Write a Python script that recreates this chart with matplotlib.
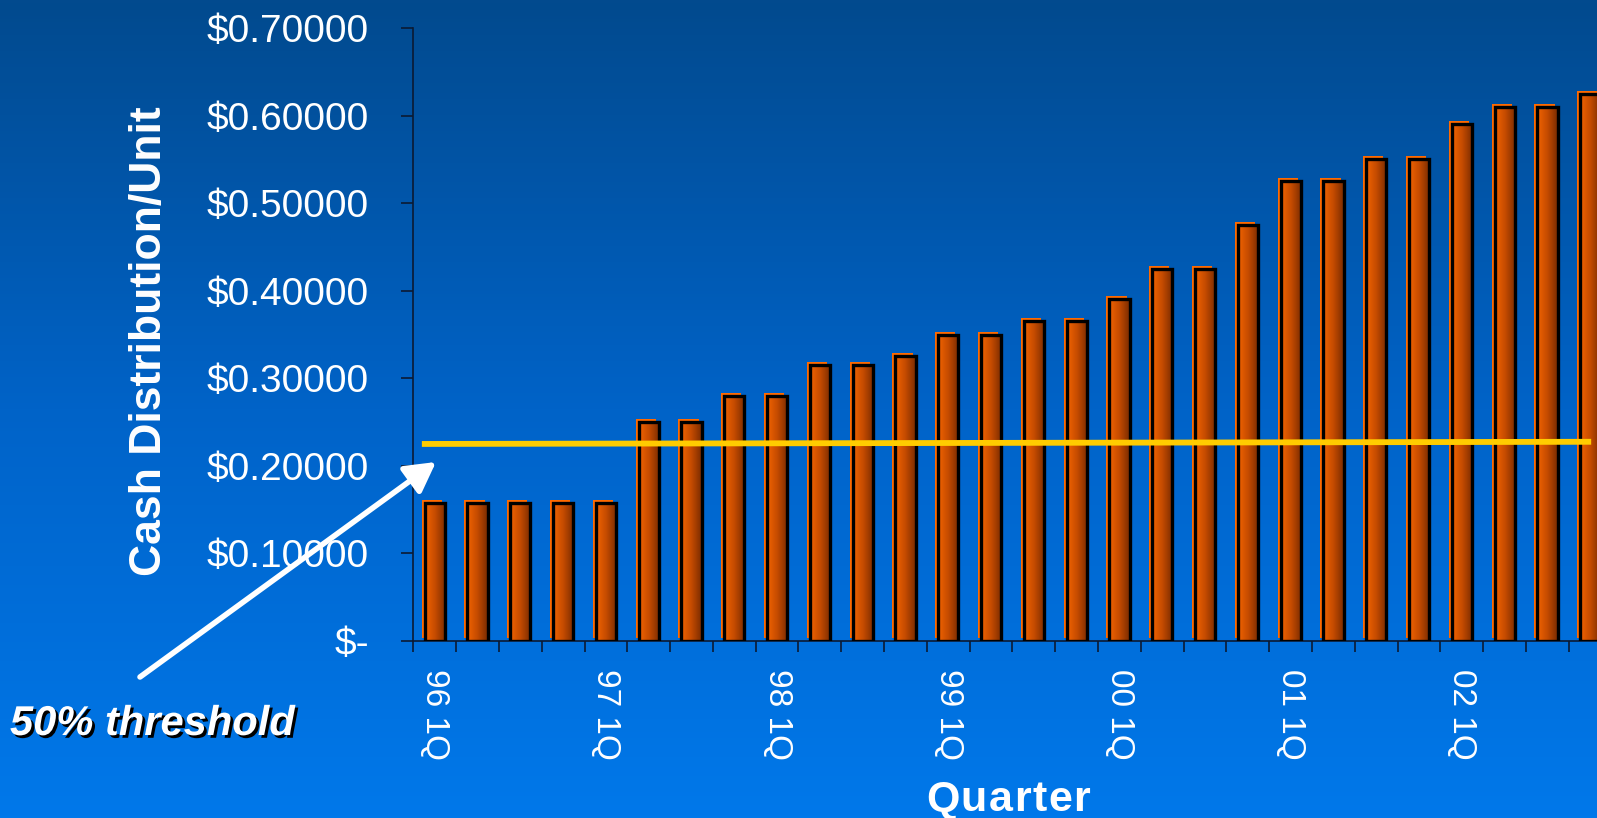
import matplotlib
matplotlib.use('Agg')
import matplotlib.pyplot as plt
import matplotlib.colors as cols
import matplotlib.patheffects as pe
import matplotlib.transforms as mtrans
from matplotlib.patches import Rectangle, FancyArrowPatch
import numpy as np

plt.rcParams['font.family'] = ['Liberation Sans', 'DejaVu Sans']

# cash distribution per unit, one value per quarter 96 1Q .. 02 4Q
distribution = [0.1575, 0.1575, 0.1575, 0.1575,
                0.1575, 0.25, 0.25, 0.28,
                0.28, 0.315, 0.315, 0.325,
                0.35, 0.35, 0.365, 0.365,
                0.39, 0.425, 0.425, 0.475,
                0.525, 0.525, 0.55, 0.55,
                0.59, 0.61, 0.61, 0.625]
year_labels = ['96 1Q', '97 1Q', '98 1Q', '99 1Q', '00 1Q', '01 1Q', '02 1Q']
y_ticks = [0.0, 0.1, 0.2, 0.3, 0.4, 0.5, 0.6, 0.7]
threshold = [0.225, 0.2275]   # drawn line, slightly tilted in the original
threshold_x = [-0.3, 27.02]

n = len(distribution)
x = np.arange(n)
labels = []
for i in range(n):
    labels.append(year_labels[i // 4] if i % 4 == 0 else '')

W, H = 1597, 818
fig = plt.figure(figsize=(W / 100, H / 100), dpi=100)

# blue gradient background
bg = fig.add_axes([0, 0, 1, 1], zorder=-10)
bg_cmap = cols.LinearSegmentedColormap.from_list('bg', ['#0078EA', '#0063C8', '#024A8E'])
bg.imshow(np.linspace(1, 0, 256).reshape(-1, 1), aspect='auto', cmap=bg_cmap,
          extent=(0, 1, 0, 1))
bg.axis('off')

ax = fig.add_axes([413.3 / W, 177 / H, 28 * 42.8 / W, 613 / H])
ax.patch.set_alpha(0)

bar_cmap = cols.LinearSegmentedColormap.from_list('bar', ['#F26300', '#C44B00', '#7A2C00'])
width = 0.47
bars = ax.bar(x, distribution, width=width, color='none', edgecolor='none')
shift = ax.transData + mtrans.ScaledTranslation(-0.03, 0.03, fig.dpi_scale_trans)
grad = np.linspace(0, 1, 64).reshape(1, -1)
for b in bars:
    x0, h = b.get_x(), b.get_height()
    back = Rectangle((x0, 0), width, h, facecolor='#FF6A00', edgecolor='none',
                     transform=shift, zorder=2)
    ax.add_patch(back)
    front = Rectangle((x0, 0), width, h, facecolor='none', edgecolor='none', zorder=3)
    ax.add_patch(front)
    im = ax.imshow(grad, aspect='auto', cmap=bar_cmap, extent=(x0, x0 + width, 0, h),
                   zorder=3)
    im.set_clip_path(front)
    ax.add_patch(Rectangle((x0, 0), width, h, facecolor='none', edgecolor='black',
                           lw=2.4, zorder=4))
ax.set_xlim(-0.5, n - 0.5)
ax.set_ylim(0, 0.7)

ax.plot(threshold_x, threshold, color='#FFCC00', lw=4.2, zorder=5, solid_capstyle='butt')

for s in ['top', 'right']:
    ax.spines[s].set_visible(False)
for s in ['left', 'bottom']:
    ax.spines[s].set_color('#0B1A33')
    ax.spines[s].set_linewidth(1.2)

ax.set_yticks(y_ticks)
ax.set_yticklabels(['$-' if v == 0 else f'${v:.5f}' for v in y_ticks])
ax.tick_params(axis='y', length=9, width=1.2, color='#0B1A33', pad=23,
               labelsize=28, labelcolor='white')
ax.set_xticks(x)
ax.set_xticklabels(labels, rotation=-90, ha='center', va='top')
ax.tick_params(axis='x', which='major', length=0, pad=20, labelsize=24, labelcolor='white')
ax.set_xticks(np.arange(-0.5, n, 1), minor=True)
ax.tick_params(axis='x', which='minor', length=8, width=1.2, color='#0B1A33')

fig.text(150 / W, 1 - 341 / H, 'Cash Distribution/Unit', rotation=90, ha='center',
         va='center', fontsize=32, fontweight='bold', color='white')

# "Quarter" is letter-spaced in the original: place the letters one by one
renderer = fig.canvas.get_renderer()
title = 'Quarter'
spacing = 1.5
parts = []
total = 0
for ch in title:
    t = fig.text(0, 0, ch, fontsize=31, fontweight='bold', color='white',
                 ha='left', va='baseline')
    w = t.get_window_extent(renderer).width
    parts.append((t, w))
    total += w
total += spacing * (len(title) - 1)
xpos = 1008 - total / 2
for t, w in parts:
    t.set_position((xpos / W, 1 - 811 / H))
    xpos += w + spacing

fig.text(10 / W, 1 - 735 / H, '50% threshold', ha='left', va='baseline', fontsize=30,
         fontweight='bold', fontstyle='italic', color='white',
         path_effects=[pe.withSimplePatchShadow(offset=(2, -2), shadow_rgbFace='black', alpha=1)])

arrow = FancyArrowPatch((140 / W, 1 - 677 / H), (436 / W, 1 - 462 / H),
                        transform=fig.transFigure,
                        arrowstyle='-|>,head_length=0.9,head_width=0.5',
                        mutation_scale=20, lw=4, color='white', shrinkA=0, shrinkB=0)
fig.add_artist(arrow)

fig.savefig('out.png', dpi=100)
